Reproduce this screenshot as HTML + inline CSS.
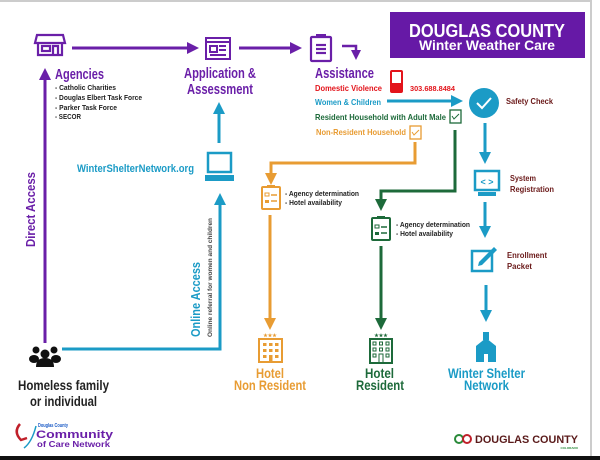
<!DOCTYPE html>
<html><head><meta charset="utf-8"><style>
html,body{margin:0;padding:0;background:#fff;}
svg{display:block;}
text{font-family:"Liberation Sans Narrow","Liberation Sans",sans-serif;font-weight:bold;}
</style></head><body>
<svg width="600" height="460" viewBox="0 0 600 460" xmlns="http://www.w3.org/2000/svg">
<defs>
<marker id="ap" markerWidth="4" markerHeight="4" refX="2" refY="2" orient="auto" markerUnits="strokeWidth"><path d="M0,0 L4,2 L0,4 Z" fill="#6a1fa8"/></marker>
<marker id="ab" markerWidth="4" markerHeight="4" refX="2" refY="2" orient="auto" markerUnits="strokeWidth"><path d="M0,0 L4,2 L0,4 Z" fill="#1b9bc6"/></marker>
<marker id="ao" markerWidth="4" markerHeight="4" refX="2" refY="2" orient="auto" markerUnits="strokeWidth"><path d="M0,0 L4,2 L0,4 Z" fill="#e89c33"/></marker>
<marker id="ag" markerWidth="4" markerHeight="4" refX="2" refY="2" orient="auto" markerUnits="strokeWidth"><path d="M0,0 L4,2 L0,4 Z" fill="#1d6a3a"/></marker>
</defs>
<rect x="0" y="0" width="600" height="460" fill="#fff"/>
<line x1="0" y1="1" x2="592" y2="1" stroke="#ccc" stroke-width="2"/>
<line x1="591" y1="0" x2="591" y2="456" stroke="#ccc" stroke-width="2"/>
<rect x="0" y="456" width="600" height="4" fill="#111"/>

<!-- Title -->
<rect x="390" y="12" width="195" height="46" fill="#6619a6"/>
<text x="409" y="37" fill="#fff" font-size="18" textLength="156" lengthAdjust="spacingAndGlyphs">DOUGLAS COUNTY</text>
<text x="419" y="50" fill="#fff" font-size="14" textLength="136" lengthAdjust="spacingAndGlyphs">Winter Weather Care</text>

<!-- Agencies icon -->
<g stroke="#6a1fa8" stroke-width="2.2" fill="none">
<path d="M37,35 h26 l2,8 h-30 z"/>
<path d="M38,44 v11 h24 v-11"/>
<rect x="42" y="46" width="8" height="5"/>
<path d="M53,55 v-9 h5 v9"/>
</g>
<line x1="72" y1="48" x2="193" y2="48" stroke="#6a1fa8" stroke-width="3" marker-end="url(#ap)"/>
<text x="55" y="79" fill="#6a1fa8" font-size="15" textLength="49" lengthAdjust="spacingAndGlyphs">Agencies</text>
<g fill="#222" font-size="7.5">
<text x="55" y="90" textLength="61" lengthAdjust="spacingAndGlyphs">- Catholic Charities</text>
<text x="55" y="100" textLength="87" lengthAdjust="spacingAndGlyphs">- Douglas Elbert Task Force</text>
<text x="55" y="110" textLength="62" lengthAdjust="spacingAndGlyphs">- Parker Task Force</text>
<text x="55" y="119" textLength="26" lengthAdjust="spacingAndGlyphs">- SECOR</text>
</g>

<!-- Application icon -->
<g stroke="#6a1fa8" stroke-width="2" fill="none">
<rect x="206" y="38" width="24" height="21"/>
<line x1="206" y1="42" x2="230" y2="42"/>
<rect x="210" y="46" width="7" height="6"/>
<line x1="219" y1="46" x2="226" y2="46"/><line x1="219" y1="50" x2="226" y2="50"/><line x1="210" y1="55" x2="226" y2="55"/>
</g>
<line x1="239" y1="48" x2="296" y2="48" stroke="#6a1fa8" stroke-width="3" marker-end="url(#ap)"/>
<text x="184" y="78" fill="#6a1fa8" font-size="15" textLength="72" lengthAdjust="spacingAndGlyphs">Application &amp;</text>
<text x="187" y="94" fill="#6a1fa8" font-size="15" textLength="66" lengthAdjust="spacingAndGlyphs">Assessment</text>

<!-- Assistance icon -->
<g stroke="#6a1fa8" stroke-width="2.2" fill="none">
<rect x="311" y="37" width="20" height="24" rx="1"/>
<line x1="316" y1="45" x2="326" y2="45"/><line x1="316" y1="49" x2="326" y2="49"/><line x1="316" y1="53" x2="326" y2="53"/>
</g>
<rect x="316" y="34" width="10" height="4" fill="#6a1fa8"/>
<path d="M342,46 h14 v9" stroke="#6a1fa8" stroke-width="2.5" fill="none" marker-end="url(#ap)"/>
<text x="315" y="78" fill="#6a1fa8" font-size="15" textLength="59" lengthAdjust="spacingAndGlyphs">Assistance</text>
<text x="315" y="91" fill="#e3141b" font-size="8.5" textLength="67" lengthAdjust="spacingAndGlyphs">Domestic Violence</text>
<rect x="391" y="71" width="11" height="21" rx="1" fill="none" stroke="#e3141b" stroke-width="2"/>
<rect x="391" y="83" width="11" height="9" fill="#e3141b"/>
<text x="410" y="91" fill="#e3141b" font-size="7.5" textLength="45" lengthAdjust="spacingAndGlyphs">303.688.8484</text>
<text x="315" y="105" fill="#1b9bc6" font-size="8.5" textLength="66" lengthAdjust="spacingAndGlyphs">Women &amp; Children</text>
<line x1="387" y1="101" x2="457" y2="101" stroke="#1b9bc6" stroke-width="3" marker-end="url(#ab)"/>
<text x="315" y="120" fill="#1d6a3a" font-size="8.5" textLength="131" lengthAdjust="spacingAndGlyphs">Resident Household with Adult Male</text>
<rect x="450" y="110" width="11" height="13" fill="none" stroke="#1d6a3a" stroke-width="1.3"/>
<path d="M452,116 l2,3 l5,-5" stroke="#1d6a3a" stroke-width="1" fill="none"/>
<text x="316" y="135" fill="#e89c33" font-size="8.5" textLength="90" lengthAdjust="spacingAndGlyphs">Non-Resident Household</text>
<rect x="410" y="126" width="11" height="13" fill="none" stroke="#e89c33" stroke-width="1.3"/>
<path d="M412,132 l2,3 l5,-5" stroke="#e89c33" stroke-width="1" fill="none"/>

<!-- Safety check column -->
<circle cx="484" cy="103" r="15" fill="#1b9bc6"/>
<path d="M477,103 l5,5 l9,-10" stroke="#fff" stroke-width="2" fill="none"/>
<text x="506" y="104" fill="#6b1a1a" font-size="8" textLength="47" lengthAdjust="spacingAndGlyphs">Safety Check</text>
<line x1="485" y1="123" x2="485" y2="158" stroke="#1b9bc6" stroke-width="3" marker-end="url(#ab)"/>
<rect x="475" y="171" width="24" height="19" fill="none" stroke="#1b9bc6" stroke-width="2.5"/>
<rect x="478" y="192" width="18" height="4" fill="#1b9bc6"/>
<text x="487" y="185" fill="#1b9bc6" font-size="9" text-anchor="middle">&lt; &gt;</text>
<text x="510" y="181" fill="#6b1a1a" font-size="8" textLength="26" lengthAdjust="spacingAndGlyphs">System</text>
<text x="510" y="192" fill="#6b1a1a" font-size="8" textLength="44" lengthAdjust="spacingAndGlyphs">Registration</text>
<line x1="485" y1="202" x2="485" y2="232" stroke="#1b9bc6" stroke-width="3" marker-end="url(#ab)"/>
<rect x="472" y="251" width="20" height="20" fill="none" stroke="#1b9bc6" stroke-width="2.5"/>
<path d="M479,262 l15,-15 l3,3 l-15,15 l-4,1 z" fill="#1b9bc6"/>
<text x="507" y="258" fill="#6b1a1a" font-size="8" textLength="40" lengthAdjust="spacingAndGlyphs">Enrollment</text>
<text x="507" y="269" fill="#6b1a1a" font-size="8" textLength="25" lengthAdjust="spacingAndGlyphs">Packet</text>
<line x1="486" y1="285" x2="486" y2="316" stroke="#1b9bc6" stroke-width="3" marker-end="url(#ab)"/>
<path d="M476,362 v-16 l10,-8 l10,8 v16 z" fill="#1b9bc6"/>
<rect x="483" y="332" width="6" height="8" fill="#1b9bc6"/>
<rect x="484" y="354" width="4" height="8" fill="#fff"/>
<text x="448" y="378" fill="#1b9bc6" font-size="14" textLength="77" lengthAdjust="spacingAndGlyphs">Winter Shelter</text>
<text x="464" y="390" fill="#1b9bc6" font-size="14" textLength="45" lengthAdjust="spacingAndGlyphs">Network</text>

<!-- Orange path -->
<path d="M415,142 v21 h-144 v16" stroke="#e89c33" stroke-width="3" fill="none" marker-end="url(#ao)"/>
<rect x="262" y="187" width="18" height="22" rx="1" fill="none" stroke="#e89c33" stroke-width="2"/>
<rect x="267" y="185" width="8" height="3" fill="#e89c33"/>
<rect x="265" y="193" width="4" height="3" fill="none" stroke="#e89c33" stroke-width="1"/><line x1="271" y1="195" x2="277" y2="195" stroke="#e89c33" stroke-width="1.5"/>
<rect x="265" y="200" width="4" height="3" fill="#e89c33"/><line x1="271" y1="201" x2="277" y2="201" stroke="#e89c33" stroke-width="1.5"/>
<text x="285" y="196" fill="#222" font-size="7" textLength="74" lengthAdjust="spacingAndGlyphs">- Agency determination</text>
<text x="285" y="205" fill="#222" font-size="7" textLength="57" lengthAdjust="spacingAndGlyphs">- Hotel availability</text>
<line x1="270" y1="215" x2="270" y2="324" stroke="#e89c33" stroke-width="3" marker-end="url(#ao)"/>
<rect x="259" y="339" width="23" height="23" fill="none" stroke="#e89c33" stroke-width="2"/>
<g fill="#e89c33"><rect x="263" y="343" width="3.5" height="3"/><rect x="269" y="343" width="3.5" height="3"/><rect x="275" y="343" width="3.5" height="3"/><rect x="263" y="349" width="3.5" height="3"/><rect x="269" y="349" width="3.5" height="3"/><rect x="275" y="349" width="3.5" height="3"/><rect x="263" y="355" width="3.5" height="3"/><rect x="269" y="355" width="3.5" height="7"/><rect x="275" y="355" width="3.5" height="3"/></g>
<text x="270" y="337" fill="#e89c33" font-size="5" text-anchor="middle">★★★</text>
<text x="256" y="378" fill="#e89c33" font-size="14" textLength="28" lengthAdjust="spacingAndGlyphs">Hotel</text>
<text x="234" y="390" fill="#e89c33" font-size="14" textLength="72" lengthAdjust="spacingAndGlyphs">Non Resident</text>

<!-- Green path -->
<path d="M455,130 v61 h-74 v14" stroke="#1d6a3a" stroke-width="3" fill="none" marker-end="url(#ag)"/>
<rect x="372" y="218" width="18" height="22" rx="1" fill="none" stroke="#1d6a3a" stroke-width="2"/>
<rect x="377" y="216" width="8" height="3" fill="#1d6a3a"/>
<rect x="375" y="225" width="4" height="3" fill="none" stroke="#1d6a3a" stroke-width="1"/><line x1="381" y1="227" x2="387" y2="227" stroke="#1d6a3a" stroke-width="1.5"/>
<rect x="375" y="232" width="4" height="3" fill="#1d6a3a"/><line x1="381" y1="233" x2="387" y2="233" stroke="#1d6a3a" stroke-width="1.5"/>
<text x="396" y="227" fill="#222" font-size="7" textLength="74" lengthAdjust="spacingAndGlyphs">- Agency determination</text>
<text x="396" y="236" fill="#222" font-size="7" textLength="57" lengthAdjust="spacingAndGlyphs">- Hotel availability</text>
<line x1="381" y1="246" x2="381" y2="324" stroke="#1d6a3a" stroke-width="3" marker-end="url(#ag)"/>
<rect x="370" y="339" width="22" height="24" fill="none" stroke="#1d6a3a" stroke-width="2"/>
<g fill="none" stroke="#1d6a3a" stroke-width="1"><rect x="373" y="342" width="3" height="3"/><rect x="379.5" y="342" width="3" height="3"/><rect x="386" y="342" width="3" height="3"/><rect x="373" y="348" width="3" height="3"/><rect x="379.5" y="348" width="3" height="3"/><rect x="386" y="348" width="3" height="3"/><rect x="373" y="354" width="3" height="3"/><rect x="386" y="354" width="3" height="3"/><rect x="379" y="354" width="4" height="9"/></g>
<text x="381" y="337" fill="#1d6a3a" font-size="5" text-anchor="middle">★★★</text>
<text x="365" y="378" fill="#1d6a3a" font-size="14" textLength="29" lengthAdjust="spacingAndGlyphs">Hotel</text>
<text x="356" y="390" fill="#1d6a3a" font-size="14" textLength="48" lengthAdjust="spacingAndGlyphs">Resident</text>

<!-- Online access -->
<path d="M62,349 h158 v-150" stroke="#1b9bc6" stroke-width="3" fill="none" marker-end="url(#ab)"/>
<rect x="208" y="153" width="23" height="19" fill="none" stroke="#1b9bc6" stroke-width="2.5"/>
<rect x="205" y="175" width="29" height="6" fill="#1b9bc6"/>
<line x1="219" y1="143" x2="219" y2="108" stroke="#1b9bc6" stroke-width="3" marker-end="url(#ab)"/>
<text x="77" y="172" fill="#1b9bc6" font-size="11" textLength="117" lengthAdjust="spacingAndGlyphs">WinterShelterNetwork.org</text>
<text transform="translate(200,337) rotate(-90)" fill="#1b9bc6" font-size="13" textLength="75" lengthAdjust="spacingAndGlyphs">Online Access</text>
<text transform="translate(212,337) rotate(-90)" fill="#444" font-size="6.5" font-weight="normal" textLength="119" lengthAdjust="spacingAndGlyphs">Online referral for women and children</text>

<!-- Direct access -->
<line x1="45" y1="343" x2="45" y2="74" stroke="#6a1fa8" stroke-width="3" marker-end="url(#ap)"/>
<text transform="translate(35,247) rotate(-90)" fill="#6a1fa8" font-size="13" textLength="75" lengthAdjust="spacingAndGlyphs">Direct Access</text>

<!-- People -->
<g fill="#111">
<circle cx="36" cy="350" r="3.5"/><circle cx="54" cy="350" r="3.5"/><circle cx="45" cy="354" r="4.5"/>
<ellipse cx="34" cy="359" rx="5" ry="4"/><ellipse cx="56" cy="359" rx="5" ry="4"/>
<path d="M36,367 q0,-9 9,-9 q9,0 9,9 z"/>
</g>
<text x="18" y="390" fill="#222" font-size="14" textLength="91" lengthAdjust="spacingAndGlyphs">Homeless family</text>
<text x="30" y="406" fill="#222" font-size="14" textLength="67" lengthAdjust="spacingAndGlyphs">or individual</text>

<!-- Logos -->
<path d="M20,424 q-7,8 1,16 l6,-2" stroke="#c0202a" stroke-width="2.5" fill="none"/>
<path d="M24,448 q8,-6 12,-22" stroke="#1b9bc6" stroke-width="1.5" fill="none"/>
<text x="38" y="427" fill="#1b5bc6" font-size="5" textLength="30" lengthAdjust="spacingAndGlyphs">Douglas County</text>
<text x="36" y="438" fill="#6a1fa8" font-size="11" font-family="Liberation Sans" textLength="77" lengthAdjust="spacingAndGlyphs">Community</text>
<text x="37" y="447" fill="#6a1fa8" font-size="8" textLength="73" lengthAdjust="spacingAndGlyphs">of Care Network</text>
<circle cx="459" cy="439" r="4" fill="none" stroke="#2a8a3a" stroke-width="2"/>
<circle cx="467" cy="439" r="4" fill="none" stroke="#c0202a" stroke-width="2"/>
<text x="475" y="443" fill="#5a1a1a" font-size="11" font-family="Liberation Serif" font-weight="normal" textLength="103" lengthAdjust="spacingAndGlyphs">DOUGLAS COUNTY</text>
<text x="578" y="449" fill="#2a8a3a" font-size="3" text-anchor="end" font-weight="normal">COLORADO</text>
</svg>
</body></html>
